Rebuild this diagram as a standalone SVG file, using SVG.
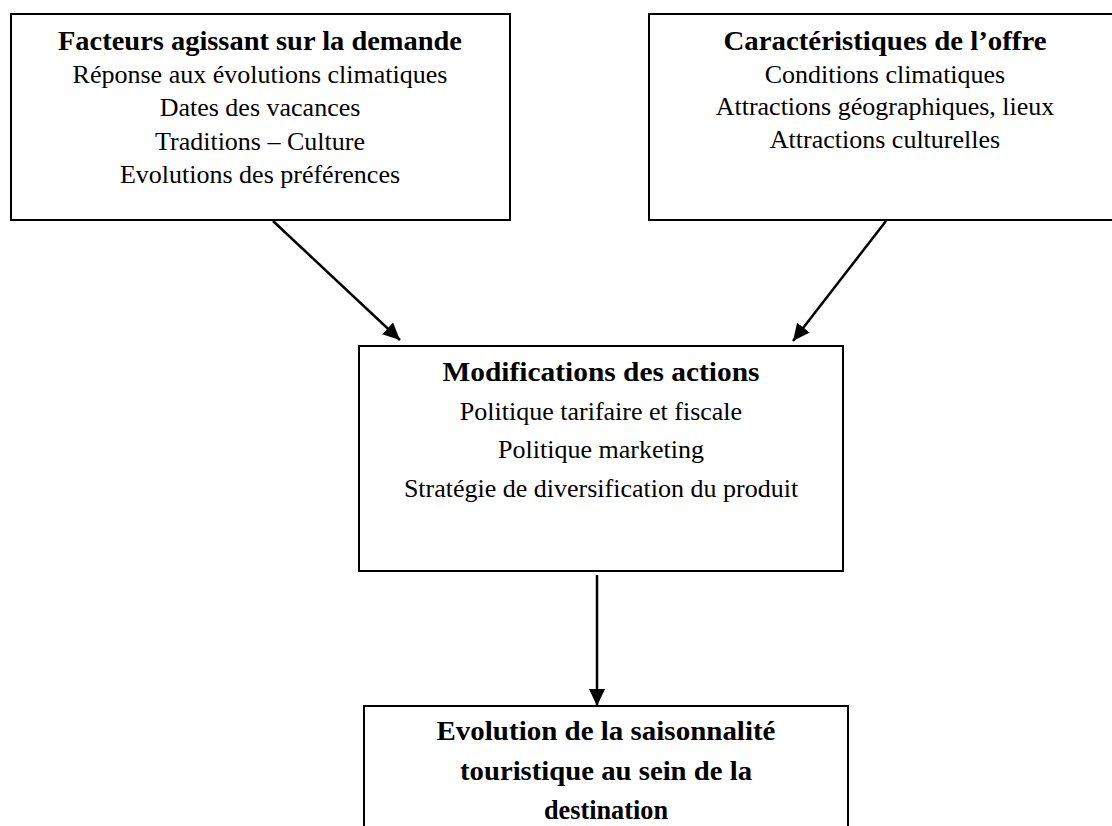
<svg xmlns="http://www.w3.org/2000/svg" width="1112" height="826" viewBox="0 0 1112 826">
<style>
.box{fill:#fff;stroke:#000;stroke-width:2}
.t{font-family:"Liberation Serif","Times New Roman",serif;font-size:26px;fill:#000;text-anchor:middle}
.b{font-weight:bold;font-size:27px}
.c{stroke:#000;stroke-width:2.5;fill:none}
</style>
<defs>
<marker id="ah" markerUnits="userSpaceOnUse" markerWidth="18" markerHeight="16" refX="17" refY="8" orient="auto">
<path d="M0,0 L17,8 L0,16 Z" fill="#000"/>
</marker>
</defs>
<rect width="1112" height="826" fill="#fff"/>
<g id="node-demande">
<rect class="box" x="11" y="14" width="499" height="206"/>
<text class="t b" x="260" y="50" textLength="404" lengthAdjust="spacingAndGlyphs">Facteurs agissant sur la demande</text>
<text class="t" x="260" y="83">Réponse aux évolutions climatiques</text>
<text class="t" x="260" y="116">Dates des vacances</text>
<text class="t" x="260" y="150">Traditions – Culture</text>
<text class="t" x="260" y="183">Evolutions des préférences</text>
</g>
<g id="node-offre">
<rect class="box" x="649" y="14" width="472" height="206"/>
<text class="t b" x="885" y="50" textLength="323" lengthAdjust="spacingAndGlyphs">Caractéristiques de l’offre</text>
<text class="t" x="885" y="83">Conditions climatiques</text>
<text class="t" x="885" y="115">Attractions géographiques, lieux</text>
<text class="t" x="885" y="148">Attractions culturelles</text>
</g>
<g id="node-actions">
<rect class="box" x="359" y="346" width="484" height="225"/>
<text class="t b" x="601" y="381" textLength="317" lengthAdjust="spacingAndGlyphs">Modifications des actions</text>
<text class="t" x="601" y="420">Politique tarifaire et fiscale</text>
<text class="t" x="601" y="458">Politique marketing</text>
<text class="t" x="601" y="497">Stratégie de diversification du produit</text>
</g>
<g id="node-evolution">
<rect class="box" x="364" y="706" width="484" height="140"/>
<text class="t b" x="606" y="740" textLength="339" lengthAdjust="spacingAndGlyphs">Evolution de la saisonnalité</text>
<text class="t b" x="606" y="780" textLength="292" lengthAdjust="spacingAndGlyphs">touristique au sein de la</text>
<text class="t b" x="606" y="819" textLength="124" lengthAdjust="spacingAndGlyphs">destination</text>
</g>
<g id="connectors">
<line class="c" x1="273" y1="221" x2="400" y2="340" marker-end="url(#ah)"/>
<line class="c" x1="886" y1="221" x2="793" y2="341" marker-end="url(#ah)"/>
<line class="c" x1="597" y1="575" x2="597" y2="706" marker-end="url(#ah)"/>
</g>
</svg>
